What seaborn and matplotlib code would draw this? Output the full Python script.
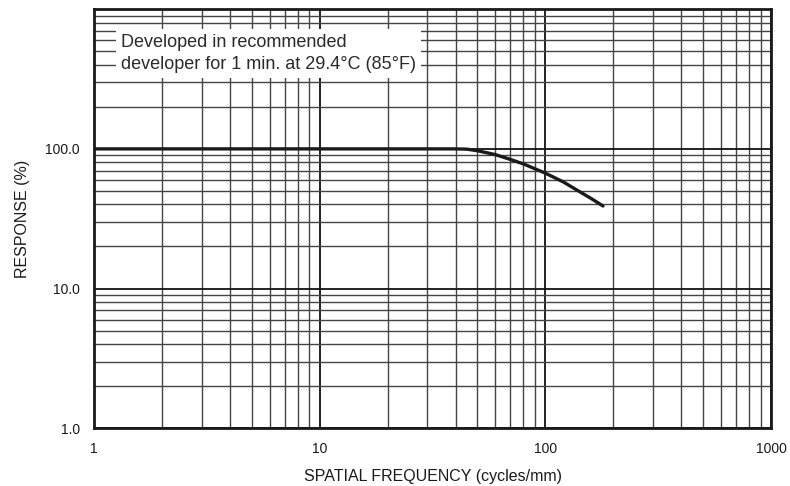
import matplotlib
matplotlib.use("Agg")
import matplotlib.pyplot as plt
import matplotlib.ticker as mticker
import pandas as pd
import seaborn as sns

# response curve
freq = [1, 10, 40, 45, 50, 60, 70, 80, 100, 120, 140, 160, 180]
response = [100, 100, 100, 99.5, 97, 91, 84, 78, 67, 58, 50, 44, 39]

x_ticks = [1, 10, 100, 1000]
x_labels = ["1", "10", "100", "1000"]
y_ticks = [1, 10, 100]
y_labels = ["1.0", "10.0", "100.0"]

note = "Developed in recommended\ndeveloper for 1 min. at 29.4\u00b0C (85\u00b0F)"

sns.set_theme(style="white")
plt.rcParams["font.family"] = ["Liberation Sans", "DejaVu Sans"]

df = pd.DataFrame({"freq": freq, "response": response})

fig = plt.figure(figsize=(7.9, 4.86), dpi=100)
ax = fig.add_axes([0.119, 0.119, 0.857, 0.862])

ax.set_xscale("log")
ax.set_yscale("log")
ax.set_xlim(1, 1000)
ax.set_ylim(1, 1000)

ax.xaxis.set_minor_locator(mticker.LogLocator(base=10, subs=range(2, 10)))
ax.yaxis.set_minor_locator(mticker.LogLocator(base=10, subs=range(2, 10)))
ax.grid(True, which="major", color="#111111", linewidth=1.3)
ax.grid(True, which="minor", color="#444444", linewidth=1.0)
ax.set_axisbelow(True)

sns.lineplot(data=df, x="freq", y="response", ax=ax, color="#1a1a1a",
             linewidth=2.4, zorder=3)

ax.set_xticks(x_ticks)
ax.set_xticklabels(x_labels)
ax.set_yticks(y_ticks)
ax.set_yticklabels(y_labels)
ax.xaxis.set_minor_formatter(mticker.NullFormatter())
ax.yaxis.set_minor_formatter(mticker.NullFormatter())
ax.tick_params(axis="both", which="both", length=0, labelsize=10,
               colors="#1a1a1a")
ax.tick_params(axis="x", pad=10)
ax.tick_params(axis="y", pad=10)

for s in ax.spines.values():
    s.set_visible(True)
    s.set_color("#1a1a1a")
    s.set_linewidth(2.0)

ax.set_xlabel("SPATIAL FREQUENCY (cycles/mm)", fontsize=11.5, labelpad=9,
              color="#1a1a1a")
ax.set_ylabel("RESPONSE (%)", fontsize=11.5, labelpad=11, color="#1a1a1a")

ax.text(0.04, 0.94, note, transform=ax.transAxes, fontsize=13,
        va="top", ha="left", color="#2a2a2a", linespacing=1.35, zorder=4,
        bbox=dict(facecolor="white", edgecolor="none", pad=3.5))

fig.savefig("out.png", dpi=100)
